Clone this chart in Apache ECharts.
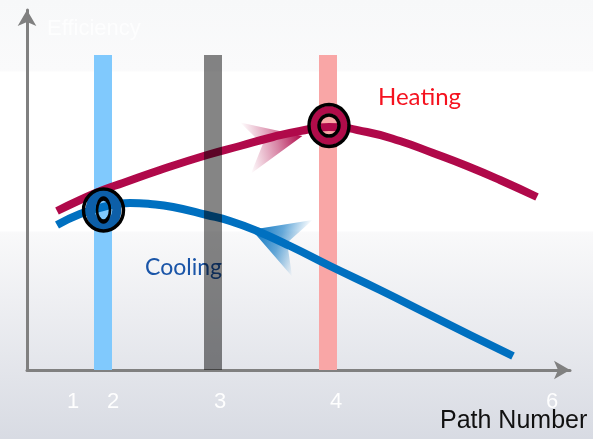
<!DOCTYPE html>
<html><head><meta charset="utf-8">
<script src="https://cdn.jsdelivr.net/npm/echarts@6/dist/echarts.min.js"></script>
<style>html,body{margin:0;padding:0;}#c{width:593px;height:439px;}</style>
</head><body><div id="c"></div>
<script>
// x: position along the path axis (diagram units), y: efficiency (diagram units)
const tickValues = [46, 86, 193, 309, 525];
const tickLabels = ['1', '2', '3', '4', '6'];
const heating = [[30,159],[53,170],[76,180],[96,187],[133,200],[180,215],[213,224],[246,233],[273,239],[302,243],[340,238],[373,229],[406,217],[440,204],[473,190],[510,173]];
const cooling = [[30,145],[53,156],[76,163],[103,167],[123,166],[146,163],[180,155],[203,149],[230,139],[263,124],[303,104],[353,80],[403,55],[443,35],[486,14]];
const pathBars = [[76,315],[186,315],[301,315]];
const barColors = ['#80c9fd','rgba(0,0,0,0.48)','#f9a6a6'];
const markers = [[76.5,160],[302,244.5]];
const markerColors = ['#0d5fa8','#b00c4a'];
const arrows = [[247,228],[250,131]];

const arrowPath = 'path://M0,0 L60,25 L0,50 L18,25 Z';
const ringSizes = [[26.5,32.5],[30,31.5]];
const ringWidths = [10,7.5];
const holeSizes = [[13,23],[20,21]];

const chart = echarts.init(document.getElementById('c'));
chart.setOption({
  backgroundColor: new echarts.graphic.LinearGradient(0,0,0,1,[
    {offset:0,color:'#f7f8f9'},{offset:0.16,color:'#fafafb'},{offset:0.165,color:'#ffffff'},
    {offset:0.525,color:'#ffffff'},{offset:0.53,color:'#f9f9fa'},{offset:1,color:'#d8dbe3'}]),
  animation:false,
  grid:{left:27,right:23,top:10,bottom:69},
  xAxis:{type:'value',min:0,max:543,
    axisLine:{show:true,onZero:false,symbol:['none','arrow'],symbolSize:[14,16],lineStyle:{color:'#808080',width:3}},
    axisTick:{show:false},splitLine:{show:false},
    axisLabel:{customValues:tickValues,formatter:v=>tickLabels[tickValues.indexOf(v)]??'',color:'rgba(255,255,255,0.95)',fontSize:22,margin:21,fontFamily:'Liberation Sans'}},
  yAxis:{type:'value',min:0,max:360,
    axisLine:{show:true,onZero:false,symbol:['none','arrow'],symbolSize:[14,16],lineStyle:{color:'#808080',width:3}},
    axisTick:{show:false},splitLine:{show:false},axisLabel:{show:false}},
  series:[
    {type:'bar',data:pathBars.map((d,i)=>i===1?null:{value:d,itemStyle:{color:barColors[i]}}),barWidth:18,barGap:'-100%',z:1,silent:true},
    {type:'scatter',data:[arrows[0]],symbol:arrowPath,symbolSize:[58,52],symbolRotate:12,z:2,
      itemStyle:{opacity:1,color:new echarts.graphic.LinearGradient(0,0,1,0,[{offset:0,color:'rgba(176,9,74,0)'},{offset:0.55,color:'rgba(176,9,74,0.5)'},{offset:1,color:'rgba(176,9,74,1)'}])}},
    {type:'scatter',data:[arrows[1]],symbol:arrowPath,symbolSize:[54,60],symbolRotate:160,z:2,
      itemStyle:{opacity:1,color:new echarts.graphic.LinearGradient(0,0,1,0,[{offset:0,color:'rgba(0,112,192,0)'},{offset:0.45,color:'rgba(0,112,192,0.6)'},{offset:1,color:'rgba(0,112,192,1)'}])}},
    {name:'Heating',type:'line',data:heating,smooth:true,showSymbol:false,lineStyle:{color:'#b0094a',width:8,cap:'butt'},z:3},
    {name:'Cooling',type:'line',data:cooling,smooth:true,showSymbol:false,lineStyle:{color:'#0070c0',width:8,cap:'butt'},z:3},
    {type:'bar',data:pathBars.map((d,i)=>i===1?{value:d,itemStyle:{color:barColors[i]}}:null),barWidth:18,barGap:'-100%',z:4,silent:true},
    {type:'scatter',symbol:'circle',z:5,
      data:markers.map((m,i)=>({value:m,symbolSize:ringSizes[i],itemStyle:{color:'transparent',opacity:1,borderColor:markerColors[i],borderWidth:ringWidths[i]}}))},
    {type:'scatter',symbol:'circle',z:6,
      data:markers.map(m=>({value:m,symbolSize:[40,42]})).concat(markers.map((m,i)=>({value:m,symbolSize:holeSizes[i]}))),
      itemStyle:{color:'transparent',opacity:1,borderColor:'#000',borderWidth:3.5}}
  ],
  graphic:[
    {type:'text',left:47,top:18,z:10,style:{text:'Efficiency',fill:'rgba(255,255,255,0.75)',font:'22px "Liberation Sans"'}},
    {type:'text',left:378,top:85,z:10,style:{text:'Heating',fill:'#f5121f',font:'24px Lato'}},
    {type:'text',left:145,top:256,z:3,style:{text:'Cooling',fill:'#1a55a8',font:'23px Lato'}},
    {type:'text',left:440,top:409,z:10,style:{text:'Path Number',fill:'#111',font:'25px "Liberation Sans"'}}
  ]
});
</script></body></html>
